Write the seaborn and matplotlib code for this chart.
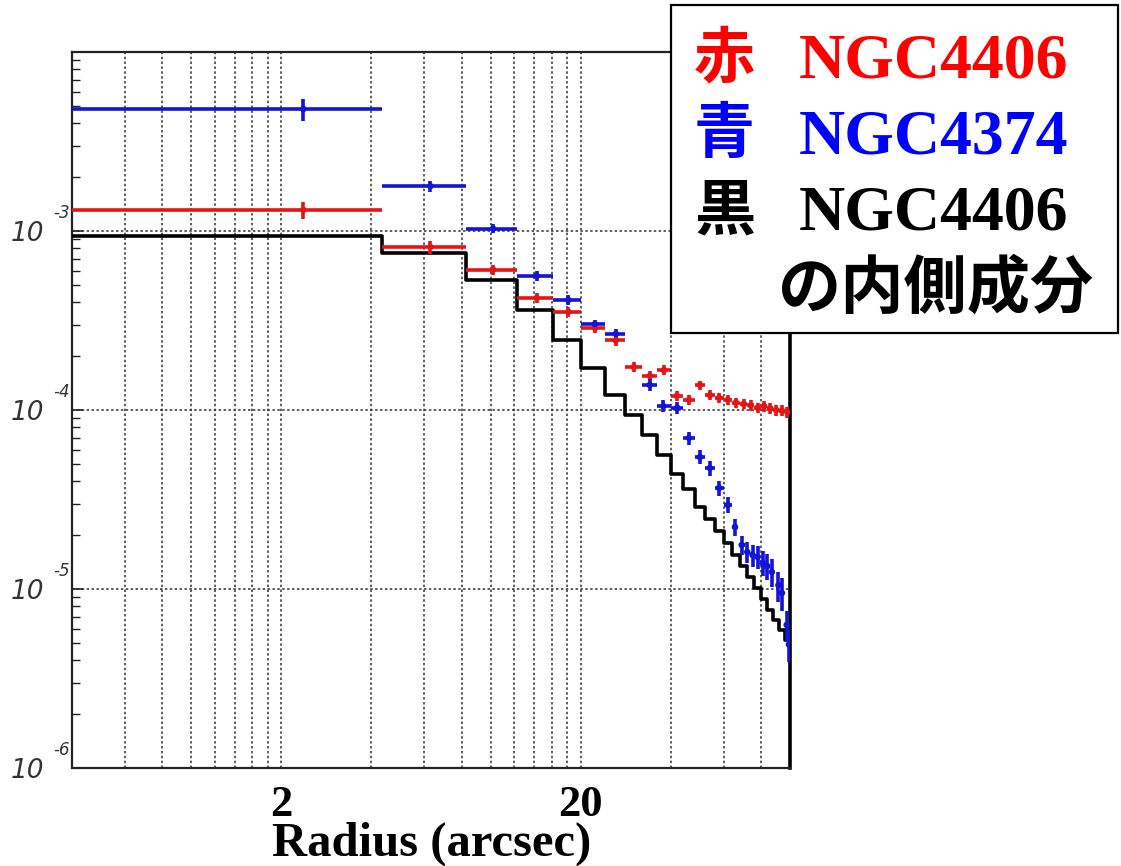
import matplotlib
matplotlib.use("Agg")
import matplotlib.pyplot as plt
import matplotlib.transforms as mtransforms
from matplotlib.patches import Rectangle
from matplotlib.ticker import FixedLocator, LogLocator, NullFormatter
import numpy as np
import pandas as pd
import seaborn as sns

# ---- radial surface-brightness profiles (radius in arcsec) ----
red_r = [2.37, 6.3, 10.2, 14.25, 18.2, 22.3, 26.2, 30.1, 34.0, 37.9, 41.9, 46.0,
         50.0, 54.0, 58.0, 62.0, 66.0, 70.0, 74.0, 78.0, 82.0, 86.0, 90.0, 94.0, 98.0]
red_lo = [0.2, 4.35, 8.3, 12.3, 16.2, 20.1, 24.1, 28.1, 32.1, 36.0, 40.0, 44.0,
          48.0, 52.0, 56.0, 60.0, 64.0, 68.0, 72.0, 76.0, 80.0, 84.0, 88.0, 92.0, 96.0]
red_hi = [4.35, 8.3, 12.3, 16.2, 20.1, 24.1, 28.1, 32.1, 36.0, 40.0, 44.0, 48.0,
          52.0, 56.0, 60.0, 64.0, 68.0, 72.0, 76.0, 80.0, 84.0, 88.0, 92.0, 96.0, 100.0]
red_val = [1.31e-3, 8.14e-4, 6.09e-4, 4.22e-4, 3.53e-4, 2.87e-4, 2.445e-4, 1.74e-4,
           1.55e-4, 1.67e-4, 1.20e-4, 1.14e-4, 1.38e-4, 1.21e-4, 1.17e-4, 1.14e-4,
           1.10e-4, 1.08e-4, 1.06e-4, 1.03e-4, 1.05e-4, 1.02e-4, 1.00e-4, 0.99e-4, 0.97e-4]
red_err = [1.5e-4, 7e-5, 4e-5, 2.8e-5, 2.3e-5, 1.9e-5, 1.6e-5, 1.2e-5, 1.0e-5,
           1.1e-5, 8e-6, 8e-6, 8e-6, 8e-6, 7e-6, 7e-6, 7e-6, 7e-6, 7e-6, 7e-6,
           7e-6, 7e-6, 7e-6, 7e-6, 7e-6]

blue_r = [2.37, 6.3, 10.2, 14.25, 18.2, 22.3, 26.2, 34.0, 37.8, 42.0, 46.0, 50.0,
          54.0, 58.0, 62.0, 65.5, 69.0, 72.0, 75.0, 78.0, 81.0, 84.0, 87.0, 91.5,
          94.0, 97.5, 99.2]
blue_lo = [0.2, 4.35, 8.3, 12.3, 16.2, 20.1, 24.1, 32.1, 36.0, 40.0, 44.0, 48.0,
           52.0, 56.0, 60.0, 64.0, 67.5, 70.5, 73.5, 76.5, 79.5, 82.5, 85.5, 89.5,
           92.5, 96.0, 98.4]
blue_hi = [4.35, 8.3, 12.3, 16.2, 20.1, 24.1, 28.1, 36.0, 40.0, 44.0, 48.0, 52.0,
           56.0, 60.0, 64.0, 67.0, 70.5, 73.5, 76.5, 79.5, 82.5, 85.5, 88.5, 93.0,
           95.5, 99.0, 100.0]
blue_val = [4.80e-3, 1.78e-3, 1.03e-3, 5.61e-4, 4.12e-4, 3.02e-4, 2.66e-4, 1.38e-4,
            1.05e-4, 1.03e-4, 6.98e-5, 5.46e-5, 4.74e-5, 3.67e-5, 2.95e-5, 2.22e-5,
            1.76e-5, 1.61e-5, 1.55e-5, 1.51e-5, 1.40e-5, 1.34e-5, 1.245e-5, 1.05e-5,
            9.5e-6, 6.3e-6, 4.9e-6]
blue_err = [6.7e-4, 1.2e-4, 6e-5, 3.3e-5, 2.5e-5, 1.8e-5, 1.6e-5, 1.0e-5, 8e-6,
            8e-6, 6e-6, 5e-6, 4.5e-6, 3.5e-6, 3e-6, 2.5e-6, 2.2e-6, 2.2e-6, 2.2e-6,
            2.2e-6, 2.2e-6, 2.2e-6, 2.2e-6, 2e-6, 2e-6, 1.2e-6, 1.0e-6]

# inner component of NGC4406 (binned step profile)
inner_edges = [0.2, 4.35, 8.3, 12.3, 16.2, 20.1, 24.1, 28.1, 32.1, 36.0, 40.0, 44.0,
               48.0, 52.0, 56.0, 60.0, 64.0, 68.0, 72.0, 76.0, 80.0, 84.0, 88.0,
               92.0, 96.0, 100.0]
inner_val = [9.38e-4, 7.54e-4, 5.32e-4, 3.62e-4, 2.46e-4, 1.716e-4, 1.213e-4, 9.38e-5,
             7.25e-5, 5.61e-5, 4.39e-5, 3.62e-5, 2.87e-5, 2.46e-5, 2.11e-5, 1.81e-5,
             1.55e-5, 1.344e-5, 1.167e-5, 1.013e-5, 8.79e-6, 7.63e-6, 6.71e-6,
             5.90e-6, 5.19e-6]

# axis ticks
x_major = [2, 20]
x_major_labels = ["2", "20"]
x_minor = [0.6, 0.8, 1.0, 1.2, 1.4, 1.6, 1.8, 4, 6, 8, 10, 12, 14, 16, 18, 40, 60, 80]
y_major = [1e-6, 1e-5, 1e-4, 1e-3, 1e-2]
y_major_labels = ["10", "10", "10", "10", ""]
y_exponents = ["-6", "-5", "-4", "-3"]

RED = "#e51515"
BLUE = "#1414d6"

sns.set_theme(style="white")
plt.rcParams["font.family"] = ["DejaVu Sans", "Noto Sans CJK JP"]

fig = plt.figure(figsize=(11.21, 8.66), dpi=100)
fig.patch.set_facecolor("white")
ax = fig.add_axes([0.0642, 0.1132, 0.6405, 0.8268])
ax.set_facecolor("white")
ax.set_xscale("log")
ax.set_yscale("log")

# grid
ax.xaxis.set_major_locator(FixedLocator(x_major))
ax.xaxis.set_minor_locator(FixedLocator(x_minor))
ax.xaxis.set_minor_formatter(NullFormatter())
ax.yaxis.set_major_locator(FixedLocator(y_major))
ax.yaxis.set_minor_locator(LogLocator(base=10, subs=np.arange(2, 10)))
ax.yaxis.set_minor_formatter(NullFormatter())
grid_kw = dict(color="#333333", linestyle=(0, (1.6, 1.6)), linewidth=1.1)
ax.grid(True, which="both", axis="x", **grid_kw)
ax.grid(True, which="major", axis="y", **grid_kw)
ax.grid(False, which="minor", axis="y")
ax.set_axisbelow(True)

# step profile
step_df = pd.DataFrame({"r": inner_edges, "v": inner_val + [inner_val[-1]]})
sns.lineplot(data=step_df, x="r", y="v", drawstyle="steps-post", color="black",
             linewidth=2.6, estimator=None, sort=False, ax=ax, zorder=3)

# binned data points with errors
def draw_points(r, lo, hi, val, err, color):
    r = np.asarray(r)
    xerr = [r - np.asarray(lo), np.asarray(hi) - r]
    ax.errorbar(r, val, xerr=xerr, yerr=err, fmt="none", ecolor=color,
                elinewidth=2.6, capsize=0, zorder=4)
    sns.scatterplot(x=r, y=val, color=color, s=22, edgecolor="none", ax=ax, zorder=5)

draw_points(red_r, red_lo, red_hi, red_val, red_err, RED)
draw_points(blue_r, blue_lo, blue_hi, blue_val, blue_err, BLUE)

ax.set_xlim(0.4, 100)
ax.set_ylim(1e-6, 1e-2)
ax.set_xlabel("")
ax.set_ylabel("")

ax.set_xticklabels(x_major_labels, fontfamily="Liberation Serif", fontweight="bold",
                   fontsize=32, color="black")
ax.set_yticklabels(y_major_labels, fontsize=19, fontstyle="italic", color="#333333")
ax.tick_params(axis="x", which="both", length=0, pad=12)
ax.tick_params(axis="y", which="major", direction="in", length=8, width=1.2,
               color="#222222", left=True, pad=20)
ax.tick_params(axis="y", which="minor", direction="in", length=6, width=1.0,
               color="#222222", left=True)

# decade exponents, raised to the upper right of each "10"
exp_tf = ax.get_yaxis_transform() + mtransforms.ScaledTranslation(-2 / 100, 18 / 100,
                                                                    fig.dpi_scale_trans)
for val, ex in zip(y_major, y_exponents):
    ax.text(0, val, ex, transform=exp_tf, ha="right", va="center", fontsize=12,
            fontstyle="italic", color="#333333")

for side, sp in ax.spines.items():
    sp.set_visible(True)
    sp.set_color("#222222")
    sp.set_linewidth(1.6)
ax.spines["right"].set_color("black")
ax.spines["right"].set_linewidth(2.6)

fig.text(432 / 1121, 1 - 856 / 866, "Radius (arcsec)", ha="center", va="baseline",
         fontfamily="Liberation Serif", fontweight="bold", fontsize=35, color="black")

# key box
fig.add_artist(Rectangle((671 / 1121, 1 - 333 / 866), (1118 - 671) / 1121,
                         (333 - 5) / 866, transform=fig.transFigure,
                         facecolor="white", edgecolor="black", linewidth=1.6,
                         zorder=10))
key_rows = [("赤", "NGC4406", "red", 77), ("青", "NGC4374", "#0000ff", 153),
            ("黒", "NGC4406", "black", 230)]
for kanji, name, col, base in key_rows:
    fig.text(694 / 1121, 1 - base / 866, kanji, color=col, fontsize=44,
             fontfamily="Noto Sans CJK JP", fontweight="bold", va="baseline",
             zorder=11)
    fig.text(799 / 1121, 1 - base / 866, name, color=col, fontsize=46,
             fontfamily="Liberation Serif", fontweight="bold", va="baseline",
             zorder=11)
fig.text(778 / 1121, 1 - 308 / 866, "の内側成分", color="black", fontsize=45.5,
         fontfamily="Noto Sans CJK JP", fontweight="bold", va="baseline", zorder=11)

fig.savefig("out.png", dpi=100, facecolor="white")
